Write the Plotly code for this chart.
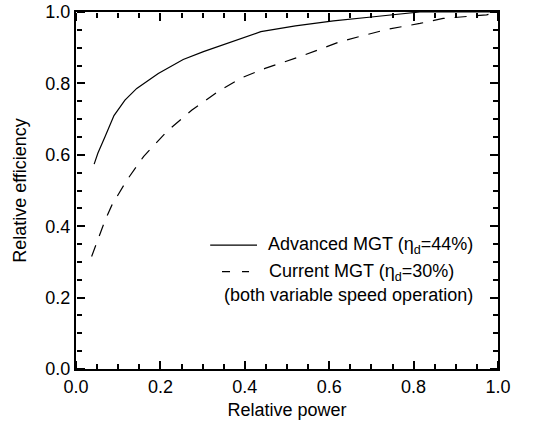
import plotly.graph_objects as go

# Advanced MGT (eta_d = 44%)
adv_power = [0.043, 0.052, 0.069, 0.09, 0.116, 0.144, 0.195, 0.254, 0.302, 0.36, 0.412, 0.438,
             0.52, 0.61, 0.70, 0.768, 0.815, 0.9, 1.0]
adv_eff = [0.574, 0.605, 0.651, 0.71, 0.753, 0.786, 0.828, 0.867, 0.889, 0.913, 0.936, 0.945,
           0.961, 0.975, 0.986, 0.994, 1.0, 1.0, 1.0]

# Current MGT (eta_d = 30%)
cur_power = [0.037, 0.049, 0.069, 0.085, 0.12, 0.16, 0.215, 0.274, 0.333, 0.389, 0.448, 0.531,
             0.626, 0.736, 0.815, 0.87, 0.973, 1.0]
cur_eff = [0.315, 0.352, 0.417, 0.459, 0.528, 0.595, 0.665, 0.725, 0.774, 0.814, 0.842, 0.875,
           0.917, 0.951, 0.968, 0.982, 0.992, 1.0]

axis_range = [0, 1]
tick_step = 0.2
minor_step = 0.05

legend_labels = ["Advanced MGT (η<sub>d</sub>=44%)", "Current MGT (η<sub>d</sub>=30%)",
                 "(both variable speed operation)"]

FONT = "Arial, Liberation Sans, Helvetica, sans-serif"
FS = 18

fig = go.Figure()
fig.add_trace(go.Scatter(x=adv_power, y=adv_eff, mode="lines",
                         line=dict(color="black", width=1.2), showlegend=False))
fig.add_trace(go.Scatter(x=cur_power, y=cur_eff, mode="lines",
                         line=dict(color="black", width=1.2, dash="12px,10px"), showlegend=False))

# empty helper traces so the tick-only frame axes get drawn
for xa, ya in [("x2", "y"), ("x3", "y"), ("x", "y2"), ("x", "y3")]:
    fig.add_trace(go.Scatter(x=[None], y=[None], xaxis=xa, yaxis=ya, mode="lines",
                             showlegend=False, hoverinfo="skip"))

main_axis = dict(range=axis_range, showgrid=False, zeroline=False, showline=True,
                 linecolor="black", linewidth=2, mirror=True, ticks="",
                 tick0=0, dtick=tick_step, tickformat=".1f", automargin=False,
                 tickfont=dict(family=FONT, size=FS, color="black"))

# tick-only axes placed on the frame so that their outward ticks point into the plot
tick_axis = dict(range=axis_range, showgrid=False, zeroline=False, showline=False,
                 showticklabels=False, ticks="outside", ticklen=8, tickwidth=2, tickcolor="black",
                 tick0=0, dtick=tick_step, automargin=False, fixedrange=True,
                 minor=dict(ticks="outside", ticklen=5, tickwidth=1.5, tickcolor="black",
                            tick0=0, dtick=minor_step, showgrid=False))

fig.update_layout(
    xaxis=dict(**main_axis,
               title=dict(text="Relative power", font=dict(family=FONT, size=FS, color="black"), standoff=8)),
    yaxis=dict(**main_axis,
               title=dict(text="Relative efficiency", font=dict(family=FONT, size=FS, color="black"), standoff=14)),
    xaxis2=dict(**tick_axis, overlaying="x", anchor="free", position=0, side="top"),
    xaxis3=dict(**tick_axis, overlaying="x", anchor="free", position=1, side="bottom"),
    yaxis2=dict(**tick_axis, overlaying="y", anchor="free", position=0, side="right"),
    yaxis3=dict(**tick_axis, overlaying="y", anchor="free", position=1, side="left"),
)

# legend samples
fig.add_shape(type="line", xref="paper", yref="paper", x0=0.318, x1=0.429, y0=0.347, y1=0.347,
              line=dict(color="black", width=1.2))
fig.add_shape(type="line", xref="paper", yref="paper", x0=0.346, x1=0.410, y0=0.273, y1=0.273,
              line=dict(color="black", width=1.2, dash="8px,12px"))
fig.add_annotation(x=0.451, y=0.347, xref="paper", yref="paper", text=legend_labels[0],
                   showarrow=False, xanchor="left", yanchor="middle",
                   font=dict(family=FONT, size=FS, color="black"))
fig.add_annotation(x=0.453, y=0.270, xref="paper", yref="paper", text=legend_labels[1],
                   showarrow=False, xanchor="left", yanchor="middle",
                   font=dict(family=FONT, size=FS, color="black"))
fig.add_annotation(x=0.346, y=0.207, xref="paper", yref="paper", text=legend_labels[2],
                   showarrow=False, xanchor="left", yanchor="middle",
                   font=dict(family=FONT, size=FS, color="black"))

fig.update_layout(
    template="none",
    width=534, height=422,
    margin=dict(l=76, r=36, t=12, b=53),
    paper_bgcolor="white", plot_bgcolor="white",
    font=dict(family=FONT, size=FS, color="black"),
)

fig.write_html("out.html", config={"displayModeBar": False},
               post_script="document.body.style.margin='0';")
